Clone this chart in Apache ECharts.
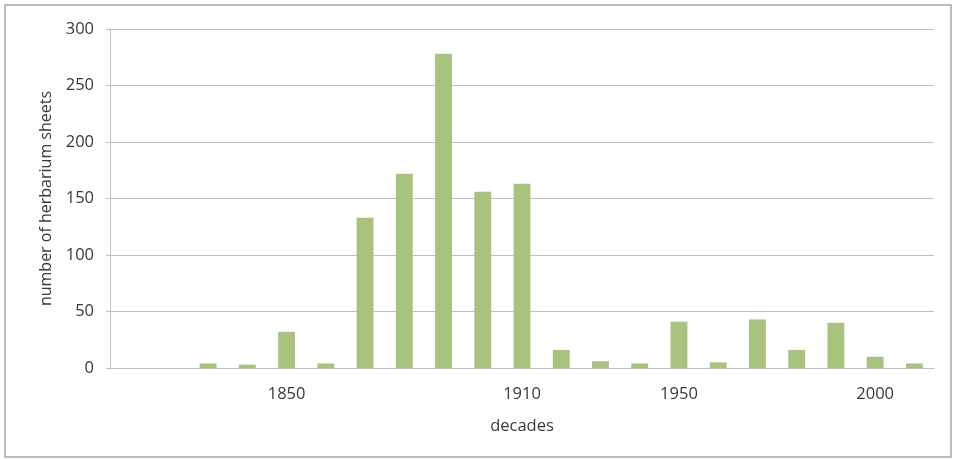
<!DOCTYPE html>
<html>
<head>
<meta charset="utf-8">
<script src="https://cdn.jsdelivr.net/npm/echarts@6/dist/echarts.min.js"></script>
<style>
html,body{margin:0;padding:0;background:#fff;}
#chart{width:955px;height:460px;}
</style>
</head>
<body>
<div id="chart"></div>
<script>
var decades = ['1810','1820','1830','1840','1850','1860','1870','1880','1890','1900','1910','1920','1930','1940','1950','1960','1970','1980','1990','2000','2010'];
var sheets = [null,null,4,3,32,4,133,172,278,156,163,16,6,4,41,5,43,16,40,10,4];
var shownLabels = ['1850','1910','1950','2000'];
var yTicks = [0,50,100,150,200,250,300];

var chart = echarts.init(document.getElementById('chart'), null, {renderer:'canvas'});
var font = '"Open Sans", "Liberation Sans", sans-serif';
var txt = '#383838';
chart.setOption({
  animation:false,
  backgroundColor:'#fff',
  textStyle:{fontFamily:font},
  graphic:[{type:'rect',shape:{x:5,y:5,width:946,height:452},style:{fill:'none',stroke:'#a6a6a6',lineWidth:1.5},silent:true}],
  grid:{left:110,right:21,top:29,bottom:92,containLabel:false},
  xAxis:{
    type:'category',
    data:decades,
    name:'decades',
    nameLocation:'middle',
    nameGap:50,
    nameTextStyle:{fontSize:16.5,color:txt,fontFamily:font},
    axisLine:{lineStyle:{color:'#bfbfbf',width:1}},
    axisTick:{show:false},
    axisLabel:{interval:0,margin:18,fontSize:16.5,color:txt,fontFamily:font,
      formatter:function(v){return shownLabels.indexOf(v)>=0?v:'';}}
  },
  yAxis:{
    type:'value',
    min:yTicks[0],max:yTicks[yTicks.length-1],interval:50,
    name:'number of herbarium sheets',
    nameLocation:'middle',
    nameGap:55,
    nameTextStyle:{fontSize:16,color:txt,fontFamily:font},
    axisLine:{show:true,lineStyle:{color:'#bfbfbf',width:1}},
    axisTick:{show:true,length:4,lineStyle:{color:'#bfbfbf'}},
    axisLabel:{margin:16,fontSize:16.5,color:txt,fontFamily:font},
    splitLine:{lineStyle:{color:'#bfbfbf',width:1}}
  },
  series:[{
    type:'bar',
    data:sheets,
    barWidth:'43%',
    itemStyle:{color:'#a7c37d'}
  }]
});
</script>
</body>
</html>
